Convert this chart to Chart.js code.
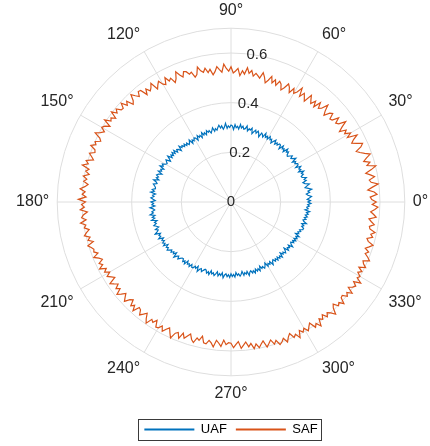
<!DOCTYPE html>
<html>
<head>
<meta charset="utf-8">
<script src="https://cdn.jsdelivr.net/npm/chart.js@4.4.0/dist/chart.umd.min.js"></script>
<style>
html, body { margin: 0; padding: 0; background: #fff; overflow: hidden; width: 430px; height: 446px; }
#wrap { position: absolute; left: -14px; top: 0; width: 490px; height: 446px; }
</style>
</head>
<body>
<div id="wrap"><canvas id="polar" width="490" height="446"></canvas></div>
<script>
// angles in degrees, MATLAB style (0 at the right, counter-clockwise), 1 deg apart
var thetaDeg = Array.from({length: 360}, (_, i) => i)

// one row per 10 degrees
var uaf = [
  .310, .320, .307, .316, .325, .311, .305, .319, .313, .329,
  .316, .304, .313, .324, .307, .300, .315, .308, .319, .303,
  .301, .312, .306, .318, .298, .310, .304, .315, .295, .309,
  .310, .300, .307, .295, .315, .304, .298, .309, .301, .292,
  .295, .307, .300, .312, .292, .303, .297, .309, .289, .304,
  .305, .295, .302, .292, .308, .299, .287, .301, .296, .307,
  .292, .303, .295, .310, .291, .300, .304, .285, .298, .306,
  .295, .306, .298, .288, .309, .300, .304, .294, .313, .301,
  .298, .309, .301, .315, .295, .306, .300, .312, .292, .307,
  .310, .300, .307, .297, .318, .303, .295, .309, .301, .313,
  .305, .295, .302, .292, .308, .298, .289, .301, .295, .304,
  .288, .299, .291, .303, .284, .296, .290, .300, .282, .294,
  .298, .288, .295, .282, .301, .291, .286, .297, .289, .300,
  .291, .301, .295, .307, .288, .300, .304, .294, .310, .298,
  .310, .298, .307, .297, .315, .303, .294, .312, .306, .300,
  .304, .316, .309, .321, .301, .312, .306, .318, .300, .313,
  .319, .309, .316, .304, .324, .312, .307, .321, .315, .310,
  .309, .321, .312, .326, .306, .317, .311, .323, .314, .305,
  .322, .312, .319, .307, .327, .315, .309, .321, .316, .330,
  .311, .323, .314, .328, .307, .319, .313, .325, .316, .308,
  .324, .314, .321, .332, .311, .320, .315, .327, .308, .318,
  .310, .321, .313, .324, .306, .318, .312, .322, .315, .307,
  .315, .305, .312, .300, .320, .308, .303, .314, .306, .299,
  .298, .309, .301, .312, .294, .306, .300, .310, .297, .307,
  .306, .296, .303, .291, .311, .299, .294, .305, .297, .290,
  .292, .303, .295, .306, .288, .300, .294, .304, .296, .286,
  .302, .292, .299, .287, .307, .295, .290, .301, .293, .304,
  .289, .300, .292, .303, .285, .297, .291, .301, .294, .283,
  .300, .290, .297, .287, .305, .293, .288, .299, .291, .302,
  .287, .298, .290, .301, .283, .295, .289, .299, .292, .281,
  .299, .289, .296, .286, .304, .292, .287, .298, .290, .301,
  .289, .300, .292, .303, .285, .297, .291, .301, .294, .283,
  .302, .292, .299, .289, .307, .295, .290, .301, .293, .304,
  .293, .304, .296, .308, .289, .301, .295, .305, .298, .310,
  .311, .301, .308, .298, .316, .304, .299, .310, .302, .313,
  .304, .315, .307, .319, .300, .312, .306, .316, .309, .322
]

var saf = [
  .585, .567, .561, .589, .578, .553, .573, .597, .570, .564,
  .587, .572, .555, .580, .601, .567, .582, .559, .574, .593,
  .573, .556, .544, .568, .580, .559, .541, .554, .575, .536,
  .556, .534, .547, .521, .539, .564, .536, .528, .550, .524,
  .520, .543, .535, .512, .527, .552, .525, .516, .538, .508,
  .530, .510, .523, .538, .502, .515, .528, .507, .541, .517,
  .505, .523, .499, .518, .529, .508, .494, .516, .524, .503,
  .524, .507, .532, .513, .499, .521, .537, .512, .520, .528,
  .515, .536, .523, .545, .518, .531, .510, .539, .528, .520,
  .545, .527, .538, .556, .524, .535, .548, .529, .517, .541,
  .529, .549, .534, .542, .560, .531, .523, .547, .541, .555,
  .559, .539, .552, .570, .544, .531, .555, .547, .567, .541,
  .548, .567, .556, .543, .577, .562, .553, .570, .549, .578,
  .581, .563, .576, .591, .567, .557, .584, .571, .595, .575,
  .577, .595, .582, .603, .574, .590, .583, .607, .575, .593,
  .601, .583, .596, .614, .588, .579, .599, .591, .609, .587,
  .583, .603, .590, .579, .607, .595, .617, .587, .598, .582,
  .604, .588, .599, .580, .592, .610, .589, .600, .584, .615,
  .586, .602, .591, .608, .580, .597, .605, .588, .612, .592,
  .600, .582, .595, .606, .585, .596, .577, .603, .592, .584,
  .588, .574, .596, .578, .567, .586, .575, .594, .569, .582,
  .564, .582, .569, .558, .588, .575, .562, .580, .567, .591,
  .577, .561, .574, .587, .566, .557, .581, .569, .590, .563,
  .567, .585, .573, .561, .581, .596, .570, .578, .562, .588,
  .585, .571, .590, .575, .564, .582, .599, .574, .567, .588,
  .562, .580, .567, .556, .576, .586, .564, .572, .552, .578,
  .580, .564, .573, .588, .560, .570, .583, .557, .575, .567,
  .569, .587, .574, .563, .591, .579, .567, .588, .575, .598,
  .580, .598, .585, .574, .602, .590, .578, .599, .586, .607,
  .600, .588, .608, .591, .580, .602, .592, .613, .586, .599,
  .587, .605, .592, .581, .609, .597, .617, .589, .600, .584,
  .604, .590, .601, .618, .593, .582, .602, .594, .612, .588,
  .585, .603, .592, .611, .584, .598, .606, .589, .616, .593,
  .600, .584, .597, .578, .603, .589, .582, .606, .594, .579,
  .590, .572, .585, .598, .575, .567, .588, .578, .593, .570,
  .566, .584, .571, .560, .588, .577, .564, .580, .592, .569
]

var seriesNames = ['UAF', 'SAF']
var seriesColors = ['#0072BD', '#D95319']
var rTicks = [0, 0.2, 0.4, 0.6]
var rMax = 0.7
var angleTicks = [0, 30, 60, 90, 120, 150, 180, 210, 240, 270, 300, 330]

var gridColor = '#dedede'
var textColor = '#262626'
var fontFamily = '"Liberation Sans", Arial, Helvetica, sans-serif'

// radar scale runs clockwise from the top, so reorder the MATLAB angles
function toRadarOrder(arr) {
  let n = arr.length
  let quarter = n / 4
  let out = []
  for (let j = 0; j < n; j++) {
    let k = ((quarter - j) % n + n) % n
    out.push(arr[k])
  }
  return out
}

let labels = toRadarOrder(thetaDeg).map(t => angleTicks.includes(t) ? t + '°' : '')

const rTickLabels = {
  id: 'rTickLabels',
  beforeDatasetsDraw(chart) {
    const scale = chart.scales.r
    const ctx = chart.ctx
    const a = 80 * Math.PI / 180
    ctx.save()
    ctx.font = '15px ' + fontFamily
    ctx.fillStyle = textColor
    ctx.textAlign = 'center'
    ctx.textBaseline = 'middle'
    rTicks.forEach(v => {
      const d = scale.getDistanceFromCenterForValue(v)
      ctx.fillText(String(v), scale.xCenter + d * Math.cos(a), scale.yCenter - d * Math.sin(a))
    })
    ctx.restore()
  }
}

const legendFrame = {
  id: 'legendFrame',
  afterDraw(chart) {
    const boxes = chart.legend.legendHitBoxes
    if (!boxes || !boxes.length) return
    let l = Math.min(...boxes.map(b => b.left))
    let r = Math.max(...boxes.map(b => b.left + b.width))
    let t = Math.min(...boxes.map(b => b.top))
    let b = Math.max(...boxes.map(b => b.top + b.height))
    const ctx = chart.ctx
    ctx.save()
    ctx.strokeStyle = '#3a3a3a'
    ctx.lineWidth = 1
    ctx.strokeRect(Math.round(l - 6) + 0.5, Math.round(t - 4) + 0.5, Math.round(r - l + 10), Math.round(b - t + 8))
    ctx.restore()
  }
}

function makeDataset(i, values) {
  return {
    label: seriesNames[i],
    data: toRadarOrder(values),
    borderColor: seriesColors[i],
    backgroundColor: seriesColors[i],
    borderWidth: 1.2,
    pointRadius: 0,
    pointHoverRadius: 0,
    fill: false,
    tension: 0
  }
}

new Chart(document.getElementById('polar'), {
  type: 'radar',
  data: {
    labels: labels,
    datasets: [makeDataset(0, uaf), makeDataset(1, saf)]
  },
  options: {
    responsive: false,
    animation: false,
    layout: { padding: { top: 1, bottom: 0, left: 0, right: 0 } },
    plugins: {
      tooltip: { enabled: false },
      legend: {
        position: 'bottom',
        title: { display: true, text: '', font: { size: 1 }, padding: { top: 8, bottom: 0 } },
        labels: {
          boxWidth: 50,
          boxHeight: 2,
          padding: 9,
          color: '#000',
          font: { size: 13, family: fontFamily },
          generateLabels: chart => chart.data.datasets.map((ds, i) => ({
            text: ds.label,
            datasetIndex: i,
            fillStyle: seriesColors[i],
            strokeStyle: seriesColors[i],
            fontColor: '#000',
            lineWidth: 0,
            hidden: false
          }))
        }
      }
    },
    scales: {
      r: {
        min: 0,
        max: rMax,
        startAngle: 0,
        afterBuildTicks: scale => {
          scale.ticks = rTicks.concat([rMax]).map(v => ({ value: v }))
        },
        ticks: { display: false },
        grid: { circular: true, color: gridColor, lineWidth: 1 },
        angleLines: {
          display: true,
          color: ctx => labels[ctx.index] ? gridColor : 'rgba(0,0,0,0)',
          lineWidth: ctx => labels[ctx.index] ? 1 : 0
        },
        pointLabels: {
          display: true,
          padding: 8,
          color: textColor,
          font: { size: 16, family: fontFamily }
        }
      }
    }
  },
  plugins: [rTickLabels, legendFrame]
})
</script>
</body>
</html>
